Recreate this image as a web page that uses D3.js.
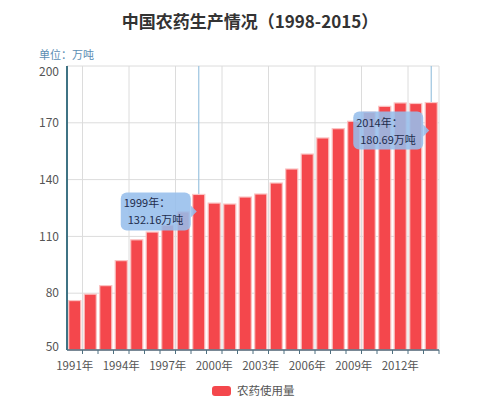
<!DOCTYPE html>
<html>
<head>
<meta charset="utf-8">
<script src="https://cdn.jsdelivr.net/npm/d3@7"></script>
<style>
  body { margin: 0; background: #fff; }
  text { font-family: "Noto Sans CJK SC", "Noto Sans", sans-serif; }
</style>
</head>
<body>
<div id="chart"></div>
<script>
const years = [1991, 1992, 1993, 1994, 1995, 1996, 1997, 1998, 1999, 2000, 2001, 2002,
               2003, 2004, 2005, 2006, 2007, 2008, 2009, 2010, 2011, 2012, 2013, 2014];
const usage = [76.1, 79.5, 84.0, 97.2, 108.2, 112.3, 116.0, 123.0, 132.16, 127.6, 127.1, 130.8,
               132.4, 138.2, 145.6, 153.5, 162.0, 166.9, 170.8, 175.6, 178.7, 180.5, 180.2, 180.69];
const yTicks = [50, 80, 110, 140, 170, 200];
const labelYears = [1991, 1994, 1997, 2000, 2003, 2006, 2009, 2012];
const tipYears = [1999, 2014];

const W = 500, H = 409;
const margin = { top: 66, right: 61, bottom: 59, left: 67 };
const innerW = W - margin.left - margin.right;
const innerH = H - margin.top - margin.bottom;

const svg = d3.select("#chart").append("svg")
    .attr("width", W)
    .attr("height", H);

svg.append("text")
    .attr("x", W / 2)
    .attr("y", 28)
    .attr("text-anchor", "middle")
    .attr("fill", "#333")
    .attr("font-size", "17px")
    .attr("font-weight", "bold")
    .text("中国农药生产情况（1998-2015）");

svg.append("text")
    .attr("x", 39)
    .attr("y", 59)
    .attr("fill", "#5b8db3")
    .attr("font-size", "11px")
    .text("单位：万吨");

const g = svg.append("g")
    .attr("transform", `translate(${margin.left},${margin.top})`);

const x = d3.scaleBand()
    .domain(years)
    .range([0, innerW])
    .paddingInner(0.22)
    .paddingOuter(0.11);

const y = d3.scaleLinear()
    .domain([50, 200])
    .range([innerH, 0]);

const step = x.step();
const bandStart = d => x(d) - x.paddingInner() * step / 2;

// grid
g.selectAll(".hgrid")
    .data(yTicks)
    .enter().append("line")
    .attr("x1", 0).attr("x2", innerW)
    .attr("y1", d => y(d)).attr("y2", d => y(d))
    .attr("stroke", "#dcdcdc")
    .attr("stroke-width", 1);

g.selectAll(".vgrid")
    .data(labelYears)
    .enter().append("line")
    .attr("x1", d => bandStart(d) + step).attr("x2", d => bandStart(d) + step)
    .attr("y1", 0).attr("y2", innerH)
    .attr("stroke", "#dcdcdc")
    .attr("stroke-width", 1);

g.append("line")
    .attr("x1", innerW).attr("x2", innerW)
    .attr("y1", 0).attr("y2", innerH)
    .attr("stroke", "#dcdcdc");

// axis pointers
g.selectAll(".pointer")
    .data(tipYears)
    .enter().append("line")
    .attr("x1", d => x(d) + x.bandwidth() / 2).attr("x2", d => x(d) + x.bandwidth() / 2)
    .attr("y1", 0).attr("y2", innerH)
    .attr("stroke", "#9cc4e0")
    .attr("stroke-width", 1.2);

// bars
g.selectAll(".bar")
    .data(years)
    .enter().append("rect")
    .attr("x", d => x(d))
    .attr("y", (d, i) => y(usage[i]))
    .attr("width", x.bandwidth())
    .attr("height", (d, i) => innerH - y(usage[i]))
    .attr("fill", "#f4474c")
    .attr("stroke", "#fbc3c3")
    .attr("stroke-width", 1.2);

// x axis
g.append("line")
    .attr("x1", 0).attr("x2", innerW)
    .attr("y1", innerH).attr("y2", innerH)
    .attr("stroke", "#4f6f80")
    .attr("stroke-width", 1.5);

g.selectAll(".xtick")
    .data(years)
    .enter().append("line")
    .attr("x1", d => bandStart(d) + step).attr("x2", d => bandStart(d) + step)
    .attr("y1", innerH).attr("y2", innerH + 4)
    .attr("stroke", "#4f6f80");

g.selectAll(".xlabel")
    .data(labelYears)
    .enter().append("text")
    .attr("x", d => x(d) + x.bandwidth() / 2)
    .attr("y", innerH + 20)
    .attr("text-anchor", "middle")
    .attr("fill", "#555")
    .attr("font-size", "11.5px")
    .text(d => d + "年");

// y axis
g.append("line")
    .attr("x1", 0).attr("x2", 0)
    .attr("y1", 0).attr("y2", innerH)
    .attr("stroke", "#3f7384")
    .attr("stroke-width", 2);

g.selectAll(".ylabel")
    .data(yTicks)
    .enter().append("text")
    .attr("x", -8)
    .attr("y", d => y(d))
    .attr("dy", d => d === 200 ? "0.85em" : d === 50 ? "0.05em" : "0.35em")
    .attr("text-anchor", "end")
    .attr("fill", "#555")
    .attr("font-size", "12px")
    .text(d => d);

// tooltips
const tipOffsets = [17, 28];
tipYears.forEach((yr, k) => {
    const i = years.indexOf(yr);
    const cx = x(yr) + x.bandwidth() / 2;
    const cy = y(usage[i]) + tipOffsets[k];
    const bw = 70, bh = 38;
    const right = cx - 8;
    const tip = g.append("g");
    tip.append("rect")
        .attr("x", right - bw)
        .attr("y", cy - bh / 2)
        .attr("width", bw)
        .attr("height", bh)
        .attr("rx", 6)
        .attr("fill", "rgba(150,190,236,0.88)");
    tip.append("path")
        .attr("d", `M${right},${cy - 6}L${cx - 2},${cy}L${right},${cy + 6}Z`)
        .attr("fill", "rgba(150,190,236,0.88)");
    tip.append("text")
        .attr("x", right - bw + 3)
        .attr("y", cy - 4)
        .attr("fill", "#1f2d4d")
        .attr("font-size", "11px")
        .text(yr + "年：");
    tip.append("text")
        .attr("x", right - bw + 7)
        .attr("y", cy + 13)
        .attr("fill", "#1f2d4d")
        .attr("font-size", "11px")
        .text(usage[i] + "万吨");
});

// legend
const legend = svg.append("g")
    .attr("transform", `translate(212, 386)`);
legend.append("rect")
    .attr("width", 19)
    .attr("height", 10)
    .attr("rx", 3)
    .attr("fill", "#f4474c");
legend.append("text")
    .attr("x", 25)
    .attr("y", 9)
    .attr("fill", "#555")
    .attr("font-size", "11.5px")
    .text("农药使用量");
</script>
</body>
</html>
